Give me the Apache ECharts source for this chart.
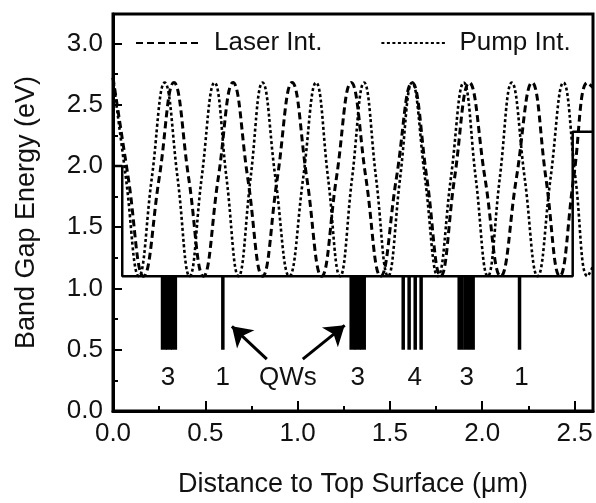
<!DOCTYPE html>
<html>
<head>
<meta charset="utf-8">
<script src="https://cdn.jsdelivr.net/npm/echarts@6/dist/echarts.min.js"></script>
<style>
html,body{margin:0;padding:0;background:#fff;}
#chart{width:596px;height:503px;}
</style>
</head>
<body>
<div id="chart"></div>
<script>
// ---- data ----
const seriesNames = ['Laser Int.', 'Pump Int.'];

const laserX = [0.00, 0.083, 0.165, 0.25, 0.33, 0.41, 0.49, 0.57, 0.65, 0.73, 0.81, 0.89, 0.97, 1.05, 1.13, 1.21, 1.29, 1.37, 1.45, 1.535, 1.62, 1.70, 1.775, 1.85, 1.93, 2.015, 2.10, 2.185, 2.27, 2.345, 2.42, 2.495, 2.57, 2.60];
const laserY = [2.72, 1.90, 1.10, 1.90, 2.68, 1.90, 1.10, 1.90, 2.68, 1.90, 1.10, 1.90, 2.68, 1.90, 1.10, 1.90, 2.68, 1.90, 1.10, 1.90, 2.68, 1.90, 1.10, 1.90, 2.68, 1.90, 1.10, 1.90, 2.68, 1.90, 1.10, 1.90, 2.68, 2.64];

const pumpX = [0.00, 0.07, 0.14, 0.21, 0.28, 0.35, 0.415, 0.48, 0.55, 0.615, 0.68, 0.745, 0.81, 0.88, 0.955, 1.03, 1.10, 1.165, 1.23, 1.295, 1.36, 1.425, 1.49, 1.555, 1.62, 1.69, 1.76, 1.83, 1.90, 1.965, 2.03, 2.095, 2.16, 2.23, 2.30, 2.37, 2.44, 2.505, 2.57, 2.60];
const pumpY = [2.72, 1.90, 1.10, 1.90, 2.68, 1.90, 1.10, 1.90, 2.68, 1.90, 1.10, 1.90, 2.68, 1.90, 1.10, 1.90, 2.68, 1.90, 1.10, 1.90, 2.68, 1.90, 1.10, 1.90, 2.68, 1.90, 1.10, 1.90, 2.68, 1.90, 1.10, 1.90, 2.68, 1.90, 1.10, 1.90, 2.68, 1.90, 1.10, 1.18];

// band-gap profile (barrier level, cap and substrate steps)
const profileX = [0.00, 0.05, 0.05, 2.49, 2.49, 2.60];
const profileY = [2.00, 2.00, 1.10, 1.10, 2.28, 2.28];

// quantum wells: positions (um), well top/bottom energies (eV)
const qwTop = 1.1;
const qwBottom = 0.5;
const qwBlockPos = [0.275, 0.303, 0.331, 1.297, 1.325, 1.354, 1.882, 1.913, 1.944];
const qwLinePos = [0.595, 1.572, 1.604, 1.637, 1.669, 2.202];

// annotation labels
const annoText = ['3', '1', 'QWs', '3', '4', '3', '1'];
const annoX = [0.298, 0.595, 0.947, 1.326, 1.634, 1.916, 2.213];
const annoY = [0.27, 0.27, 0.27, 0.27, 0.27, 0.27, 0.27];

// arrows from "QWs" label to wells
const arrowFrom = [[0.833, 0.423], [1.028, 0.423]];
const arrowTo = [[0.644, 0.691], [1.255, 0.699]];

// axes
const xMin = 0, xMax = 2.6, xInterval = 0.5;
const yMin = 0, yMax = 3.24, yInterval = 0.5;
const xTitle = 'Distance to Top Surface (\u03bcm)';
const yTitle = 'Band Gap Energy (eV)';

// ---- chart ----
const FONT = '"Liberation Sans", Arial, Helvetica, sans-serif';
const TXT = '#111';
const zip = (a, b) => a.map((v, i) => [v, b[i]]);

function qwRenderer(w) {
  return function (params, api) {
    const x = api.value(0);
    const p1 = api.coord([x, api.value(1)]);
    const p2 = api.coord([x, api.value(2)]);
    return {
      type: 'rect',
      shape: { x: p1[0] - w / 2, y: p1[1], width: w, height: p2[1] - p1[1] },
      style: { fill: '#000' }
    };
  };
}

const chart = echarts.init(document.getElementById('chart'), null, { renderer: 'canvas' });
chart.setOption({
  animation: false,
  backgroundColor: '#fff',
  grid: {
    left: 113, right: 3, top: 14, bottom: 91,
    show: true, borderColor: '#000', borderWidth: 3, backgroundColor: 'transparent'
  },
  legend: {
    data: seriesNames,
    left: 135, top: 30, padding: 0,
    itemWidth: 66, itemHeight: 14, itemGap: 58,
    itemStyle: { opacity: 0 },
    textStyle: { fontFamily: FONT, fontSize: 26, color: TXT, padding: [0, 0, 0, 7] }
  },
  xAxis: {
    type: 'value', min: xMin, max: xMax, interval: xInterval,
    name: xTitle, nameLocation: 'middle', nameGap: 60,
    nameTextStyle: { fontFamily: FONT, fontSize: 27, color: TXT },
    axisLine: { show: true, onZero: false, lineStyle: { color: '#000', width: 3 } },
    axisTick: { show: true, inside: true, length: 10, lineStyle: { color: '#000', width: 2 } },
    minorTick: { show: true, splitNumber: 2, length: 5, lineStyle: { color: '#000', width: 2 } },
    axisLabel: {
      fontFamily: FONT, fontSize: 26, color: TXT, margin: 10, showMaxLabel: false,
      formatter: v => v.toFixed(1)
    },
    splitLine: { show: false }
  },
  yAxis: {
    type: 'value', min: yMin, max: yMax, interval: yInterval,
    name: yTitle, nameLocation: 'middle', nameGap: 73,
    nameTextStyle: { fontFamily: FONT, fontSize: 27, color: TXT },
    axisLine: { show: true, onZero: false, lineStyle: { color: '#000', width: 3 } },
    axisTick: { show: true, inside: true, length: 9, lineStyle: { color: '#000', width: 2 } },
    minorTick: { show: true, splitNumber: 2, length: 5, lineStyle: { color: '#000', width: 2 } },
    axisLabel: {
      fontFamily: FONT, fontSize: 26, color: TXT, margin: 10, showMaxLabel: false,
      formatter: v => v.toFixed(1)
    },
    splitLine: { show: false }
  },
  series: [
    {
      name: 'Band', type: 'line', data: zip(profileX, profileY),
      symbol: 'none', silent: true, z: 3,
      lineStyle: { color: '#000', width: 2.5 }
    },
    {
      name: seriesNames[0], type: 'line', data: zip(laserX, laserY),
      symbol: 'none', smooth: 0.45, z: 4,
      itemStyle: { color: '#000' },
      lineStyle: { color: '#000', width: 3, type: [7, 4] }
    },
    {
      name: seriesNames[1], type: 'line', data: zip(pumpX, pumpY),
      symbol: 'none', smooth: 0.45, z: 4,
      itemStyle: { color: '#000' },
      lineStyle: { color: '#000', width: 2.6, type: [3, 2.5] }
    },
    {
      name: 'QW blocks', type: 'custom', renderItem: qwRenderer(6),
      data: qwBlockPos.map(x => [x, qwTop, qwBottom]), z: 2, silent: true
    },
    {
      name: 'QW lines', type: 'custom', renderItem: qwRenderer(3.5),
      data: qwLinePos.map(x => [x, qwTop, qwBottom]), z: 2, silent: true
    },
    {
      name: 'Labels', type: 'scatter', symbolSize: 0, silent: true,
      itemStyle: { opacity: 1 },
      data: annoText.map((t, i) => ({ name: t, value: [annoX[i], annoY[i]] })),
      label: {
        show: true, position: 'inside', formatter: '{b}', opacity: 1,
        fontFamily: FONT, fontSize: 26, color: TXT
      }
    },
    {
      name: 'Arrows', type: 'lines', coordinateSystem: 'cartesian2d', silent: true,
      symbol: ['none', 'arrow'], symbolSize: 19,
      lineStyle: { color: '#000', width: 3, opacity: 1 },
      data: arrowFrom.map((f, i) => ({ coords: [f, arrowTo[i]] }))
    }
  ]
});
</script>
</body>
</html>
